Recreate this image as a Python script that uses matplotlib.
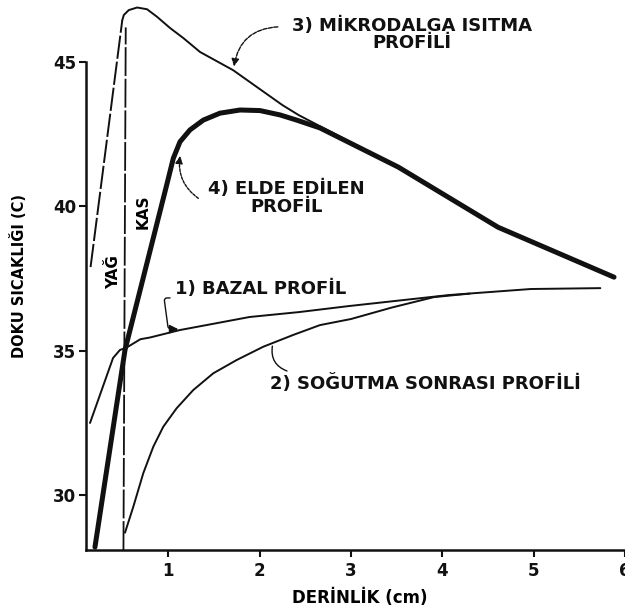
import matplotlib

matplotlib.use("Agg")
import matplotlib.pyplot as plt


# values (depth in cm, tissue temperature in C)
BAZAL_X = [0.144, 0.396, 0.472, 0.538, 0.695, 0.80, 1.13, 1.35, 1.89, 2.43, 2.98, 4.07, 4.97, 5.73]
BAZAL_Y = [32.5, 34.75, 35.03, 35.1, 35.4, 35.46, 35.72, 35.85, 36.17, 36.34, 36.55, 36.93, 37.14, 37.17]

SOGUTMA_X = [0.527, 0.618, 0.727, 0.837, 0.946, 1.092, 1.274, 1.493, 1.749, 2.04, 2.369, 2.661,
             3.0, 3.45, 3.91, 4.30]
SOGUTMA_Y = [28.7, 29.6, 30.76, 31.68, 32.37, 33.01, 33.64, 34.22, 34.68, 35.14, 35.55, 35.89,
             36.1, 36.5, 36.86, 36.98]

MIKRO_X = [0.15, 0.497, 0.514, 0.568, 0.66, 0.768, 0.877, 1.02, 1.166, 1.348, 1.71, 2.25, 2.43,
           3.52, 4.61, 5.88]
MIKRO_Y = [37.9, 46.45, 46.63, 46.8, 46.89, 46.83, 46.57, 46.18, 45.83, 45.35, 44.72, 43.51, 43.16,
           41.36, 39.28, 37.55]

ELDE_X = [0.198, 0.527, 0.983, 1.056, 1.129, 1.238, 1.384, 1.566, 1.786, 2.005, 2.223, 2.406, 2.66,
          3.52, 4.61, 5.88]
ELDE_Y = [28.2, 35.03, 40.74, 41.67, 42.24, 42.65, 42.99, 43.23, 43.34, 43.32, 43.17, 42.99, 42.72,
          41.36, 39.28, 37.55]

# fat / muscle boundary
KAS_X = [0.51, 0.535]
KAS_Y = [28.1, 46.2]

X_TICKS = [1, 2, 3, 4, 5, 6]
Y_TICKS = [30, 35, 40, 45]

FONT = "DejaVu Sans"
INK = "#111111"


def configure_style() -> None:
    plt.rcParams.update(
        {
            "font.family": FONT,
            "font.weight": "bold",
            "font.size": 11,
            "axes.linewidth": 1.8,
            "axes.edgecolor": INK,
            "xtick.color": INK,
            "ytick.color": INK,
        }
    )


def main() -> None:
    configure_style()
    fig = plt.figure(figsize=(6.25, 6.1), dpi=100)
    ax = fig.add_axes([86 / 625, 60 / 610, 539 / 625, 550 / 610])

    thin = dict(color=INK, linewidth=1.4, solid_capstyle="round", solid_joinstyle="round")
    ax.plot(KAS_X, KAS_Y, color=INK, linewidth=1.3, linestyle=(0, (16, 1.5)))
    ax.plot(BAZAL_X, BAZAL_Y, **thin)
    ax.plot(SOGUTMA_X, SOGUTMA_Y, **thin)
    ax.plot(MIKRO_X[:2], MIKRO_Y[:2], color=INK, linewidth=1.4, linestyle=(0, (12, 1.5)))
    ax.plot(MIKRO_X[1:], MIKRO_Y[1:], **thin)
    ax.plot(ELDE_X, ELDE_Y, color=INK, linewidth=3.6, solid_capstyle="round", solid_joinstyle="round")

    ax.set_xlim(0.1, 6.0)
    ax.set_ylim(28.1, 47.15)
    ax.spines["top"].set_visible(False)
    ax.spines["right"].set_visible(False)
    ax.spines["left"].set_bounds(28.1, 45)
    ax.set_xticks(X_TICKS)
    ax.set_yticks(Y_TICKS)
    ax.tick_params(axis="both", direction="out", length=5, width=1.5, labelsize=12)
    ax.tick_params(axis="y", pad=2)
    ax.tick_params(axis="x", pad=4)

    ax.set_xlabel("DERİNLİK (cm)", fontsize=12, fontweight="bold", va="center")
    ax.xaxis.set_label_coords(0.508, -0.087)
    ax.set_ylabel("DOKU SICAKLIĞI (C)", fontsize=10.5, fontweight="bold", va="center")
    ax.yaxis.set_label_coords(-0.126, 0.498)

    txt = dict(fontsize=13, fontweight="bold", color=INK, ha="center", va="center",
               multialignment="center", linespacing=0.95)
    ax.text(3.67, 45.95, "3) MİKRODALGA ISITMA\nPROFİLİ", **txt)
    ax.text(2.29, 40.3, "4) ELDE EDİLEN\nPROFİL", **txt)
    ax.text(2.01, 37.14, "1) BAZAL PROFİL", **txt)
    ax.text(3.82, 33.88, "2) SOĞUTMA SONRASI PROFİLİ", **txt)
    ax.text(0.40, 37.73, "YAĞ", rotation=90, fontsize=11, fontweight="bold", ha="center", va="center")
    ax.text(0.72, 39.8, "KAS", rotation=90, fontsize=11, fontweight="bold", ha="center", va="center")

    arrow = dict(arrowstyle="-|>", color=INK, lw=1.0, mutation_scale=11, shrinkA=0, shrinkB=0)
    ax.annotate("", xy=(1.72, 44.85), xytext=(2.2, 46.22),
                arrowprops=dict(arrow, connectionstyle="arc3,rad=0.4", linestyle=(0, (3, 1))))
    ax.annotate("", xy=(1.13, 41.75), xytext=(1.33, 40.28),
                arrowprops=dict(arrow, connectionstyle="arc3,rad=-0.3", linestyle=(0, (2, 1))))
    ax.annotate("", xy=(1.11, 35.75), xytext=(1.02, 36.83),
                arrowprops=dict(arrow, mutation_scale=13,
                                connectionstyle="arc,angleA=180,angleB=180,armA=6,armB=10,rad=3"))
    ax.annotate("", xy=(2.14, 35.16), xytext=(2.30, 34.3),
                arrowprops=dict(arrowstyle="-", color=INK, lw=1.0, shrinkA=0, shrinkB=0,
                                connectionstyle="arc3,rad=-0.4"))

    fig.savefig("out.png", dpi=100)
    plt.close(fig)


if __name__ == "__main__":
    main()
